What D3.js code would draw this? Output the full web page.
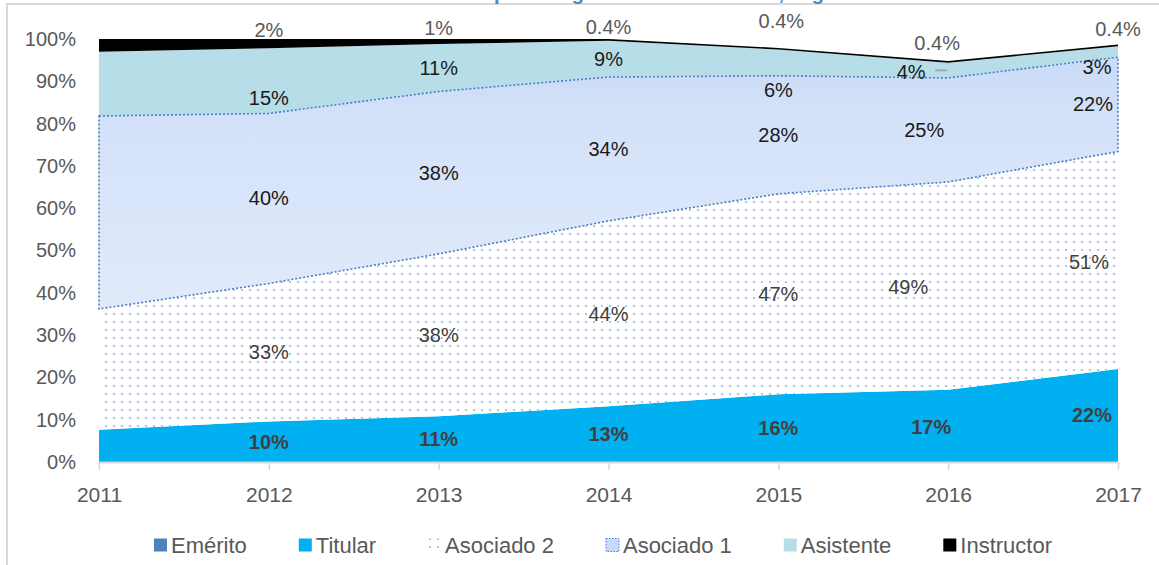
<!DOCTYPE html>
<html>
<head>
<meta charset="utf-8">
<script src="https://cdn.jsdelivr.net/npm/d3@7"></script>
<style>
  body { margin: 0; background: #fff; }
  svg { display: block; font-family: "Liberation Sans", Arial, sans-serif; }
</style>
</head>
<body>
<svg id="chart" width="1159" height="565"></svg>
<script>
// Data (percent of staff per category)
const years = [2011, 2012, 2013, 2014, 2015, 2016, 2017];
const emerito    = [0, 0, 0, 0, 0, 0, 0];
const titular    = [7.6, 9.6, 10.8, 13.2, 16.0, 17.1, 22.0];
const asociado2  = [28.6, 32.6, 38.4, 43.8, 47.4, 49.1, 51.4];
const asociado1  = [45.6, 40.2, 38.4, 34.0, 27.9, 24.6, 22.3];
const asistente  = [15.2, 15.4, 11.2, 8.6, 6.2, 3.6, 2.6];
const instructor = [3.0, 2.2, 1.2, 0.4, 0.4, 0.4, 0.4];
const seriesNames = ["Emérito", "Titular", "Asociado 2", "Asociado 1", "Asistente", "Instructor"];
const yTicks = [0, 10, 20, 30, 40, 50, 60, 70, 80, 90, 100];

const rows = years.map((yr, i) => ({
  year: yr,
  "Emérito": emerito[i],
  "Titular": titular[i],
  "Asociado 2": asociado2[i],
  "Asociado 1": asociado1[i],
  "Asistente": asistente[i],
  "Instructor": instructor[i]
}));

const svg = d3.select("#chart");
const defs = svg.append("defs");

// dotted pattern for Asociado 2
const pat = defs.append("pattern").attr("id", "dots")
  .attr("patternUnits", "userSpaceOnUse").attr("width", 8).attr("height", 8);
pat.append("rect").attr("width", 8).attr("height", 8).attr("fill", "#fff");
pat.append("rect").attr("x", 1).attr("y", 1).attr("width", 2).attr("height", 2).attr("fill", "#adc3e6");

// soft blue gradient for Asociado 1
const grad = defs.append("linearGradient").attr("id", "asoc1grad")
  .attr("gradientUnits", "userSpaceOnUse").attr("x1", 0).attr("y1", 45).attr("x2", 0).attr("y2", 330);
grad.append("stop").attr("offset", 0).attr("stop-color", "#c8daf7");
grad.append("stop").attr("offset", 0.25).attr("stop-color", "#d3e1f8");
grad.append("stop").attr("offset", 1).attr("stop-color", "#e2ebfb");

const fills = {
  "Emérito": "#4f81bd",
  "Titular": "#00b0f0",
  "Asociado 2": "url(#dots)",
  "Asociado 1": "url(#asoc1grad)",
  "Asistente": "#b7dde8",
  "Instructor": "#000"
};

// frame + (cropped) title
svg.append("rect").attr("x", 7).attr("y", 4).attr("width", 1300).attr("height", 700)
  .attr("fill", "none").attr("stroke", "#d9d9d9").attr("stroke-width", 2);

const title = svg.append("text").attr("x", 0).attr("y", -0.5)
  .attr("fill", "#4a86c8").attr("font-weight", "bold").attr("font-size", 20)
  .text("Distribución relativa de académicos por categoría de la institución, según año");
const pIdx = title.text().indexOf("por ");
const pPos = title.node().getStartPositionOfChar(pIdx).x;
title.attr("x", 494 - pPos);

const x = d3.scalePoint().domain(years).range([99, 1118]);
const y = d3.scaleLinear().domain([0, 100]).range([462, 39]);

const stack = d3.stack().keys(seriesNames);
const layers = stack(rows);

const area = d3.area()
  .x(d => x(d.data.year))
  .y0(d => y(d[0]))
  .y1(d => y(d[1]));

svg.append("g").selectAll("path")
  .data(layers)
  .join("path")
  .attr("d", area)
  .attr("fill", d => fills[d.key]);

// dotted outline around Asociado 1
const a1 = layers.find(l => l.key === "Asociado 1");
svg.append("path")
  .attr("d", area(a1))
  .attr("fill", "none")
  .attr("stroke", "#4a7bc8")
  .attr("stroke-width", 1.6)
  .attr("stroke-dasharray", "2 2");

// axes
const xAxis = svg.append("g").attr("transform", "translate(0,462)")
  .call(d3.axisBottom(x).tickSize(8).tickSizeOuter(0).tickPadding(17));
xAxis.select(".domain").attr("stroke", "#d9d9d9").attr("stroke-width", 2);
xAxis.selectAll(".tick line").attr("stroke", "#d9d9d9").attr("stroke-width", 1.5);
xAxis.selectAll(".tick text").attr("fill", "#595959").attr("font-size", 21)
  .attr("font-family", "Liberation Sans, Arial, sans-serif");

const yAxis = svg.append("g").attr("transform", "translate(99,0)")
  .call(d3.axisLeft(y).tickValues(yTicks).tickSize(0).tickPadding(23).tickFormat(d => d + "%"));
yAxis.select(".domain").remove();
yAxis.selectAll(".tick text").attr("fill", "#595959").attr("font-size", 20)
  .attr("font-family", "Liberation Sans, Arial, sans-serif");

// data labels
const fmt = v => v < 1 ? d3.format(".1f")(v) + "%" : Math.round(v) + "%";
const nudge = {
  "Titular|2016": [-17, 1], "Titular|2017": [-26, 0],
  "Asociado 2|2016": [-40, 1], "Asociado 2|2017": [-29, 2],
  "Asociado 1|2016": [-24, 0], "Asociado 1|2017": [-25, 0],
  "Asistente|2012": [0, 17], "Asistente|2015": [0, 27], "Asistente|2016": [-37, 2], "Asistente|2017": [-21, 15],
  "Instructor|2012": [0, -14], "Instructor|2013": [0, -14], "Instructor|2014": [0, -13],
  "Instructor|2015": [3, -28], "Instructor|2016": [-11, -19], "Instructor|2017": [0, -16]
};
const labelStyle = {
  "Titular": { fill: "#404040", weight: "bold" },
  "Asociado 2": { fill: "#404040", weight: "normal" },
  "Asociado 1": { fill: "#1a1a1a", weight: "normal" },
  "Asistente": { fill: "#1a1a1a", weight: "normal" },
  "Instructor": { fill: "#595959", weight: "normal" }
};

const labels = [];
layers.forEach(l => {
  if (l.key === "Emérito") return;
  l.forEach((d, i) => {
    if (i === 0) return; // no labels on the first year
    const n = nudge[l.key + "|" + d.data.year] || [0, 0];
    labels.push({
      key: l.key,
      text: fmt(d.data[l.key]),
      x: x(d.data.year) + n[0],
      y: y((d[0] + d[1]) / 2) + n[1]
    });
  });
});

svg.append("g").selectAll("text")
  .data(labels)
  .join("text")
  .attr("x", d => d.x)
  .attr("y", d => d.y)
  .attr("dy", "0.35em")
  .attr("text-anchor", "middle")
  .attr("font-size", 20)
  .attr("fill", d => labelStyle[d.key].fill)
  .attr("font-weight", d => labelStyle[d.key].weight)
  .text(d => d.text);

// small leader line for the moved 2016 Asistente label
const asis = layers.find(l => l.key === "Asistente")[5];
svg.append("line")
  .attr("x1", x(2016) - 13).attr("x2", x(2016) - 1)
  .attr("y1", y((asis[0] + asis[1]) / 2)).attr("y2", y((asis[0] + asis[1]) / 2))
  .attr("stroke", "#a6a6a6").attr("stroke-width", 2);

// legend
const legend = svg.append("g");
const items = legend.selectAll("g").data(seriesNames).join("g");
items.append("rect")
  .attr("width", 13).attr("height", 13).attr("y", -6.5)
  .attr("fill", d => fills[d])
  .attr("stroke", d => d === "Asociado 1" ? "#4a7bc8" : "none")
  .attr("stroke-dasharray", "1.5 1.5")
  .attr("stroke-width", 1);
items.append("text")
  .attr("x", 17).attr("dy", "0.35em")
  .attr("font-size", 22).attr("fill", "#595959")
  .text(d => d);

let cx = 0;
const pos = [];
items.each(function () {
  pos.push(cx);
  cx += 17 + this.querySelector("text").getComputedTextLength() + 52;
});
const total = cx - 52;
const startX = 603 - total / 2;
items.attr("transform", (d, i) => `translate(${startX + pos[i]},545)`);
</script>
</body>
</html>
